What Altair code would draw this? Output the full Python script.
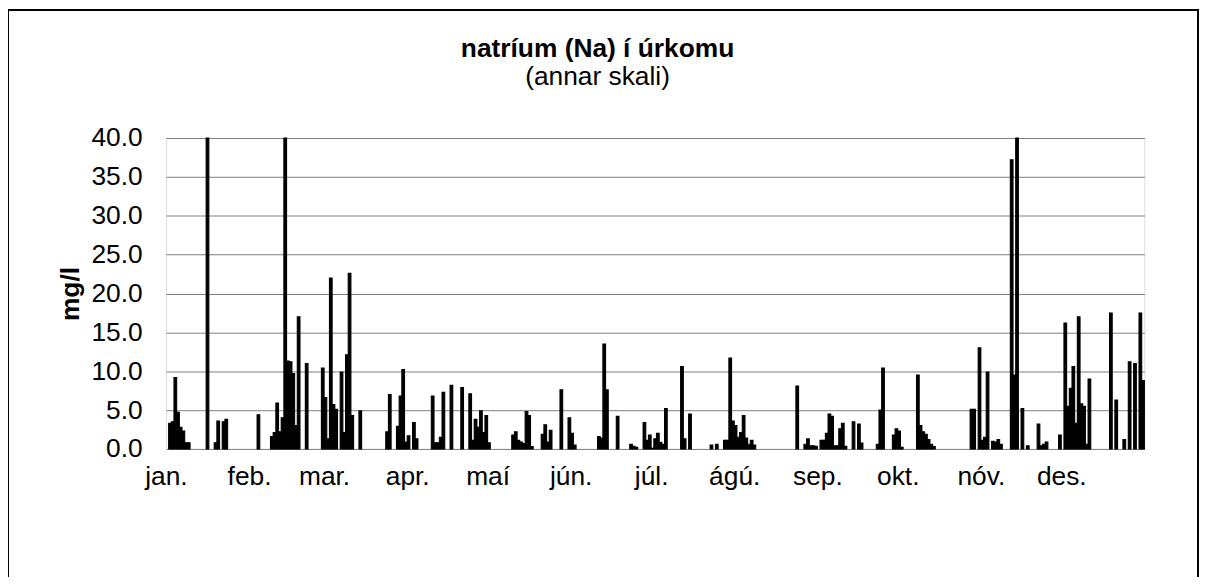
import altair as alt
import pandas as pd

# day-of-year (0 = 1 Jan) and daily sodium concentration in precipitation (mg/l)
days = [1, 2, 3, 4, 5, 6, 7, 8, 15, 18, 19, 21, 22, 34, 39, 40, 41, 42, 43, 44,
        45, 46, 47, 48, 49, 52, 58, 59, 60, 61, 62, 63, 65, 66, 67, 68, 69, 72,
        82, 83, 86, 87, 88, 89, 90, 92, 93, 99, 100, 101, 102, 103, 106, 110,
        113, 114, 115, 116, 117, 118, 119, 120, 129, 130, 131, 132, 133, 134,
        135, 136, 140, 141, 142, 143, 147, 150, 151, 152, 161, 162, 163, 164,
        168, 173, 174, 175, 178, 179, 180, 181, 182, 183, 184, 185, 186, 192,
        193, 195, 203, 205, 208, 209, 210, 211, 212, 213, 214, 215, 216, 217,
        218, 219, 235, 238, 239, 240, 241, 242, 244, 245, 246, 247, 248, 249,
        250, 251, 252, 253, 256, 258, 259, 265, 266, 267, 271, 272, 273, 274,
        280, 281, 282, 283, 284, 285, 286, 300, 301, 303, 304, 305, 306, 308,
        309, 310, 311, 315, 316, 317, 319, 321, 325, 326, 327, 328, 333, 335,
        336, 337, 338, 339, 340, 341, 342, 343, 344, 352, 354, 357, 359, 361,
        363, 364]
values = [3.3, 3.5, 9.2, 4.7, 2.8, 2.3, 0.8, 0.8, 40, 0.8, 3.6, 3.5, 3.8, 4.4,
          1.6, 2.1, 5.9, 2.2, 4.0, 40, 11.3, 11.2, 9.7, 3.0, 17.0, 11.0, 10.4,
          6.6, 1.3, 22.0, 5.7, 5.1, 9.9, 2.1, 12.1, 22.6, 4.3, 4.9, 2.2, 7.0,
          2.9, 6.8, 10.2, 0.9, 1.7, 3.4, 1.3, 6.8, 0.8, 0.8, 1.5, 7.3, 8.2, 7.9,
          7.1, 1.1, 3.8, 2.8, 4.9, 2.1, 4.3, 0.8, 1.8, 2.2, 1.1, 0.9, 0.7, 4.8,
          4.3, 0.3, 1.9, 3.1, 0.9, 2.4, 7.6, 4.0, 2.0, 0.5, 1.6, 1.4, 13.5, 7.6,
          4.2, 0.6, 0.35, 0.2, 3.4, 1.1, 1.8, 0.1, 1.3, 2.0, 0.85, 0.6, 5.2,
          10.6, 1.3, 4.5, 0.5, 0.6, 1.1, 1.1, 11.7, 3.6, 3.0, 1.5, 2.1, 4.3,
          1.4, 0.6, 1.1, 0.5, 8.1, 0.6, 1.3, 0.4, 0.4, 0.35, 1.1, 1.1, 2.0, 4.5,
          4.2, 0.4, 0.4, 2.6, 3.3, 0.35, 3.5, 3.2, 0.75, 0.6, 5.0, 10.4, 1.8,
          2.6, 2.3, 0.2, 9.5, 3.0, 2.2, 1.9, 1.2, 0.6, 0.3, 5.1, 5.1, 13.0, 1.1,
          1.5, 9.9, 1.0, 0.9, 1.2, 0.6, 37.2, 9.5, 40, 5.2, 0.4, 3.2, 0.4, 0.6,
          0.9, 1.8, 16.2, 5.5, 7.8, 10.6, 3.3, 17.0, 5.8, 5.5, 0.6, 9.0, 17.5,
          6.3, 1.2, 11.2, 11.0, 17.5, 8.8]

month_starts = [0, 31, 59, 90, 120, 151, 181, 212, 243, 273, 304, 334]
month_labels = ["jan.", "feb.", "mar.", "apr.", "maí", "jún.", "júl.", "ágú.",
                "sep.", "okt.", "nóv.", "des."]
y_ticks = [0, 5, 10, 15, 20, 25, 30, 35, 40]

df = pd.DataFrame({"day": days, "value": values})

FONT = "Liberation Sans"
FS = 26.5
W, H = 985, 313

label_map = "{" + ",".join(f"'{d}':'{m}'" for d, m in zip(month_starts, month_labels)) + "}"

bars = alt.Chart(df).transform_calculate(
    x0="datum.day", x1="datum.day + 1"
).mark_bar(color="black", stroke="black", strokeWidth=1.1).encode(
    x=alt.X("x0:Q", scale=alt.Scale(domain=[0, 365], nice=False, zero=False),
            axis=alt.Axis(values=month_starts, labelExpr=label_map + "[datum.value]",
                          title=None, grid=False, ticks=False, domain=False,
                          labelFont=FONT, labelFontSize=FS, labelColor="black",
                          labelBaseline="top", labelPadding=15, labelAlign="center",
                          labelFlush=False, labelOverlap=False)),
    x2="x1:Q",
    y=alt.Y("value:Q", scale=alt.Scale(domain=[0, 40], nice=False),
            axis=alt.Axis(values=y_ticks, format=".1f", title="mg/l",
                          grid=True, gridColor="#7f7f7f", gridWidth=1,
                          ticks=False, domain=False,
                          labelFont=FONT, labelFontSize=FS, labelColor="black",
                          labelPadding=24,
                          titleFont=FONT, titleFontSize=FS, titleFontWeight="bold",
                          titleColor="black", titleAngle=-90, titleX=-96, titleY=H / 2,
                          titleAlign="center", titleBaseline="middle")),
    y2=alt.datum(0),
)

frame = alt.Chart(df).mark_rect(fill="transparent", stroke="black", strokeWidth=2,
                                 clip=False).encode(
    x=alt.value(-159), x2=alt.value(1039), y=alt.value(-129), y2=alt.value(470)
).transform_filter("datum.day == 1")

chart = alt.layer(bars, frame).properties(
    width=W, height=H,
    title=alt.TitleParams("natríum (Na) í úrkomu", subtitle="(annar skali)",
                          font=FONT, fontSize=FS, fontWeight="bold", color="black",
                          subtitleFont=FONT, subtitleFontSize=FS, subtitleColor="black",
                          subtitleFontWeight="normal", anchor="middle", dx=-58,
                          offset=-82, subtitlePadding=2),
    autosize=alt.AutoSizeParams(type="none"),
    padding={"left": 159, "top": 129, "right": 56, "bottom": 127},
).configure_view(stroke="#8c8c8c", strokeWidth=2).configure(background="white")

chart.save("out.html", embed_options={"renderer": "svg", "actions": False})
